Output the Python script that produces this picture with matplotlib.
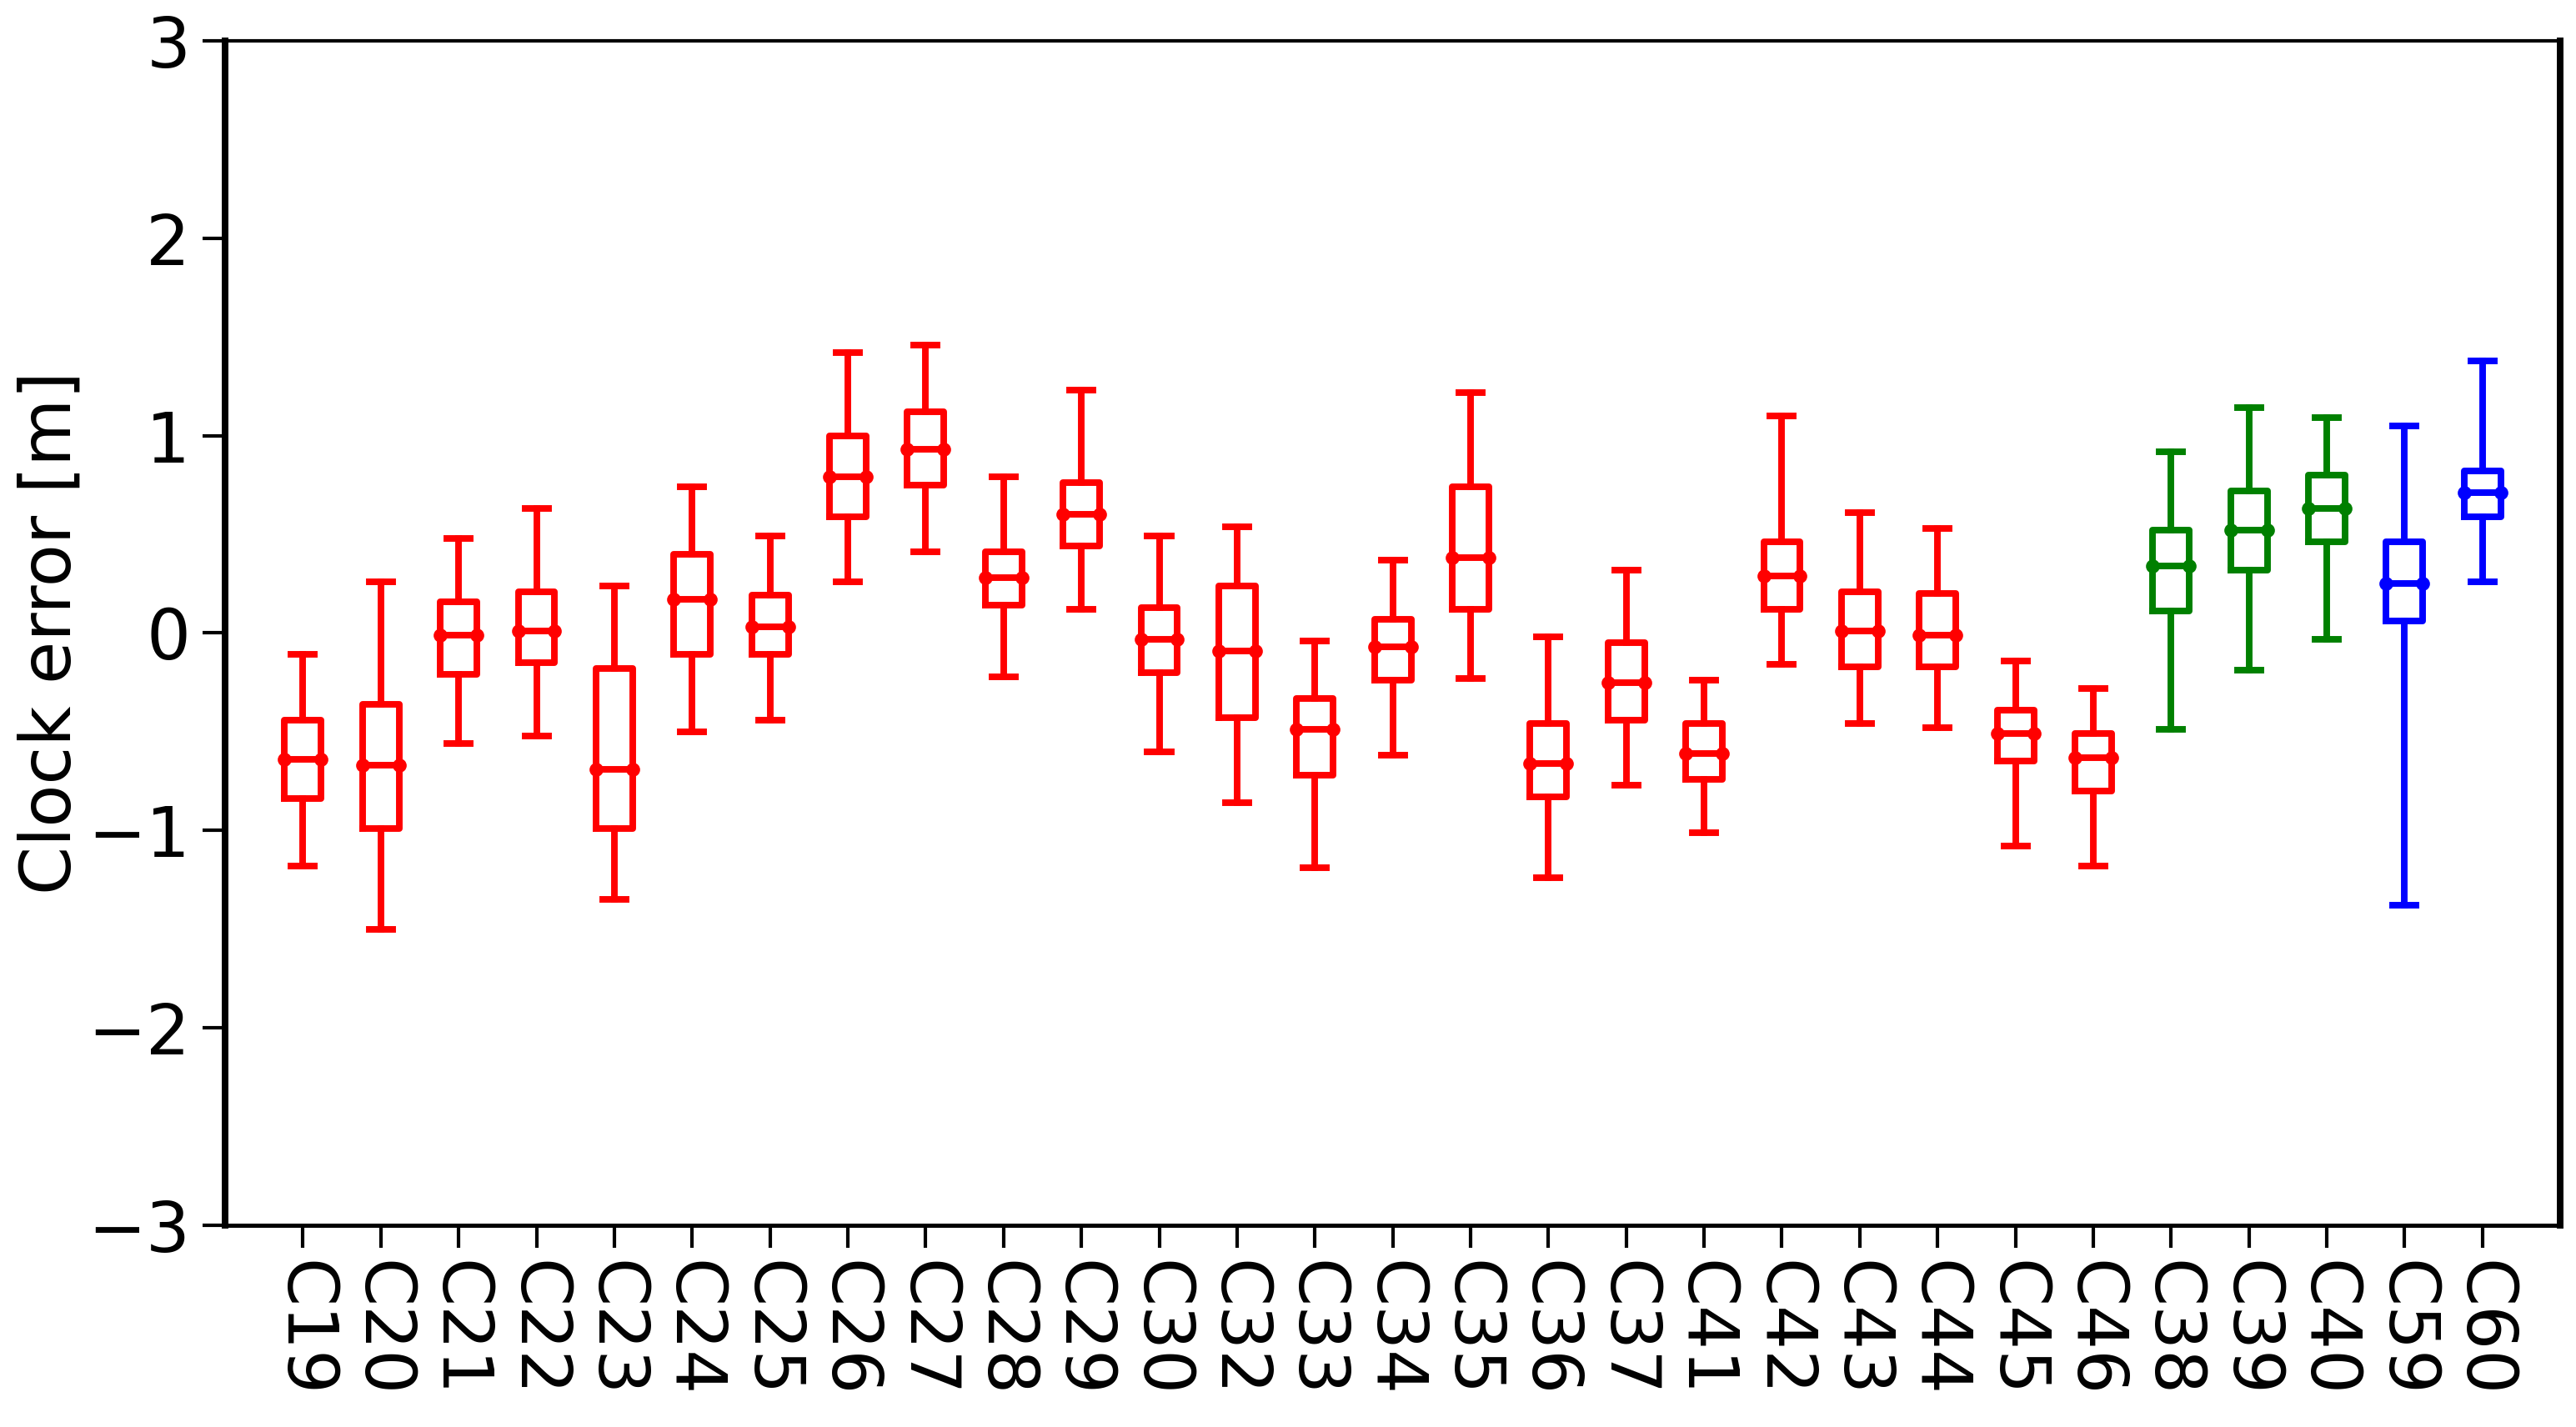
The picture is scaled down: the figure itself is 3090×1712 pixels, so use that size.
import matplotlib
matplotlib.use("Agg")
import matplotlib.pyplot as plt

# satellites, in plotting order
LABELS = ["C19", "C20", "C21", "C22", "C23", "C24", "C25", "C26", "C27", "C28",
          "C29", "C30", "C32", "C33", "C34", "C35", "C36", "C37", "C41", "C42",
          "C43", "C44", "C45", "C46", "C38", "C39", "C40", "C59", "C60"]

# box statistics [m]
WHIS_HI = [-0.11, 0.26, 0.48, 0.63, 0.24, 0.74, 0.49, 1.42, 1.46, 0.79,
           1.23, 0.49, 0.54, -0.04, 0.37, 1.22, -0.02, 0.32, -0.24, 1.10,
           0.61, 0.53, -0.14, -0.28, 0.92, 1.14, 1.09, 1.05, 1.38]
Q3 = [-0.44, -0.36, 0.16, 0.21, -0.18, 0.40, 0.19, 1.00, 1.12, 0.41,
      0.76, 0.13, 0.24, -0.33, 0.07, 0.74, -0.46, -0.05, -0.46, 0.46,
      0.21, 0.20, -0.39, -0.51, 0.52, 0.72, 0.80, 0.46, 0.82]
MED = [-0.64, -0.67, -0.01, 0.01, -0.69, 0.17, 0.03, 0.79, 0.93, 0.28,
       0.60, -0.03, -0.09, -0.49, -0.07, 0.38, -0.66, -0.25, -0.61, 0.29,
       0.01, -0.01, -0.51, -0.63, 0.34, 0.52, 0.63, 0.25, 0.71]
Q1 = [-0.84, -0.99, -0.21, -0.15, -0.99, -0.11, -0.11, 0.59, 0.75, 0.14,
      0.44, -0.20, -0.43, -0.72, -0.24, 0.12, -0.83, -0.44, -0.74, 0.12,
      -0.17, -0.17, -0.65, -0.80, 0.11, 0.32, 0.46, 0.06, 0.59]
WHIS_LO = [-1.18, -1.50, -0.56, -0.52, -1.35, -0.50, -0.44, 0.26, 0.41, -0.22,
           0.12, -0.60, -0.86, -1.19, -0.62, -0.23, -1.24, -0.77, -1.01, -0.16,
           -0.46, -0.48, -1.08, -1.18, -0.49, -0.19, -0.03, -1.38, 0.26]

# constellation group of each satellite -> colour
GROUP = ["BDS-3 MEO"] * 24 + ["BDS-3 IGSO"] * 3 + ["BDS-3 GEO"] * 2
GROUP_COLORS = {"BDS-3 MEO": "red", "BDS-3 IGSO": "green", "BDS-3 GEO": "blue"}

plt.rcParams["font.family"] = "DejaVu Sans"
plt.rcParams["font.size"] = 20

fig = plt.figure(figsize=(10.3, 5.7067), dpi=300)
ax = fig.add_axes([0.0874, 0.1414, 0.9065, 0.83])

positions = list(range(1, len(LABELS) + 1))
lw = 1.9
for i, pos in enumerate(positions):
    color = GROUP_COLORS[GROUP[i]]
    stats = [{
        "label": LABELS[i],
        "whislo": WHIS_LO[i], "q1": Q1[i], "med": MED[i],
        "q3": Q3[i], "whishi": WHIS_HI[i], "fliers": [],
    }]
    ax.bxp(stats, positions=[pos], widths=0.47, capwidths=0.3,
           showfliers=False, manage_ticks=False,
           boxprops=dict(color=color, linewidth=lw),
           whiskerprops=dict(color=color, linewidth=lw),
           capprops=dict(color=color, linewidth=lw),
           medianprops=dict(color=color, linewidth=lw, marker="o",
                            markersize=3, markerfacecolor=color,
                            markeredgecolor=color))

ax.set_xlim(0, len(LABELS) + 1)
ax.set_ylim(-3, 3)
ax.set_yticks([-3, -2, -1, 0, 1, 2, 3])
ax.set_xticks(positions)
ax.set_xticklabels(LABELS, rotation=270)
ax.set_ylabel("Clock error [m]", labelpad=1)

for side, w in [("left", 1.9), ("right", 1.9), ("top", 1.0), ("bottom", 1.2)]:
    ax.spines[side].set_linewidth(w)
ax.tick_params(axis="both", length=6.5, width=1.0)

fig.savefig("out.png", dpi=300)
